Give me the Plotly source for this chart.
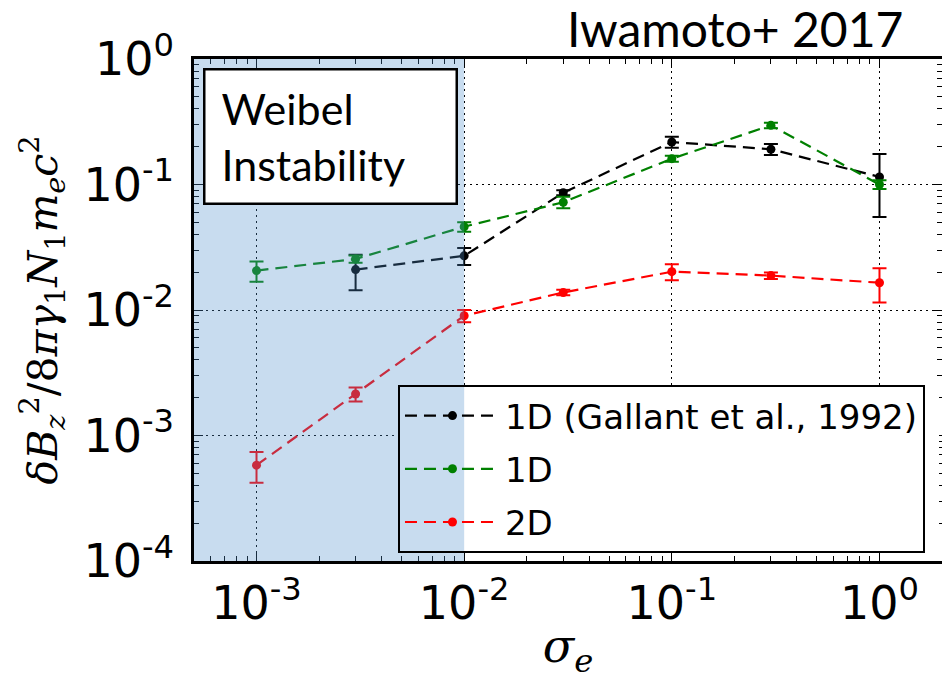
import numpy as np
import plotly.graph_objects as go

# ---- data ----
x_gallant = [3e-3, 1e-2, 3e-2, 1e-1, 3e-1, 1.0]
y_gallant = [0.021, 0.027, 0.086, 0.218, 0.191, 0.115]
err_gallant = [0.0066, 0.0042, 0.004, 0.022, 0.019, 0.060]

x_sim = [1e-3, 3e-3, 1e-2, 3e-2, 1e-1, 3e-1, 1.0]
y_1d = [0.0206, 0.0255, 0.0461, 0.0722, 0.1606, 0.296, 0.100]
err_1d = [0.0038, 0.0017, 0.004, 0.0076, 0.009, 0.015, 0.008]
y_2d = [5.8e-4, 2.14e-3, 9.0e-3, 0.0138, 0.0202, 0.0188, 0.0165]
err_2d = [1.6e-4, 2.7e-4, 1.0e-3, 7e-4, 2.9e-3, 1.1e-3, 5.0e-3]

series_names = ["1D (Gallant et al., 1992)", "1D", "2D"]
series_colors = ["#000000", "#008000", "#ff0000"]

x_ticks = [1e-3, 1e-2, 1e-1, 1.0]
x_ticktext = ["10<sup>-3</sup>", "10<sup>-2</sup>", "10<sup>-1</sup>", "10<sup>0</sup>"]
y_ticks = [1e-4, 1e-3, 1e-2, 1e-1, 1.0]
y_ticktext = ["10<sup>-4</sup>", "10<sup>-3</sup>", "10<sup>-2</sup>", "10<sup>-1</sup>", "10<sup>0</sup>"]

x_range = [5e-4, 2.0]
y_range = [1e-4, 1.0]
weibel_limit = 1e-2

title_text = "Iwamoto+ 2017"
box_text = "Weibel<br>Instability"


def minor_vals(lo, hi):
    out = []
    for d in range(int(np.floor(np.log10(lo))), int(np.ceil(np.log10(hi))) + 1):
        for k in range(2, 10):
            v = k * 10.0 ** d
            if lo <= v <= hi:
                out.append(v)
    return out


fig = go.Figure()
datasets = [
    (x_gallant, y_gallant, err_gallant),
    (x_sim, y_1d, err_1d),
    (x_sim, y_2d, err_2d),
]
for (xs, ys, es), name, col in zip(datasets, series_names, series_colors):
    fig.add_trace(go.Scatter(
        x=xs, y=ys, name=name, mode="lines+markers",
        line=dict(color=col, width=2.2, dash="12px,7px"),
        marker=dict(color=col, size=9),
        error_y=dict(type="data", array=es, visible=True, color=col,
                     thickness=2, width=7),
        legendgroup=name,
    ))

axis_common = dict(
    type="log", showline=True, linecolor="black", linewidth=2.5, mirror="allticks",
    ticks="inside", ticklen=9, tickwidth=1.2, tickcolor="black",
    showgrid=True, gridcolor="black", gridwidth=1, griddash="2px,4px",
    zeroline=False, tickmode="array", automargin=False,
    tickfont=dict(family="DejaVu Sans", size=46, color="black"),
)

fig.update_xaxes(
    **axis_common,
    range=[np.log10(x_range[0]), np.log10(x_range[1])],
    tickvals=x_ticks, ticktext=x_ticktext,
    minor=dict(tickmode="array", tickvals=minor_vals(*x_range), ticks="inside",
               ticklen=5, tickcolor="black", tickwidth=1, showgrid=False),
    title=dict(text="<i>σ</i><sub><i>e</i></sub>", standoff=2,
               font=dict(family="DejaVu Serif", size=46, color="black")),
)
fig.update_yaxes(
    **axis_common,
    range=[np.log10(y_range[0]), np.log10(y_range[1])],
    tickvals=y_ticks, ticktext=y_ticktext, ticklabelstandoff=8,
    minor=dict(tickmode="array", tickvals=minor_vals(*y_range), ticks="inside",
               ticklen=5, tickcolor="black", tickwidth=1, showgrid=False),
    title=dict(text="<i>δB</i><sub><i>z</i></sub><sup>2</sup>/8<i>πγ</i><sub>1</sub>"
                    "<i>N</i><sub>1</sub><i>m</i><sub><i>e</i></sub><i>c</i><sup>2</sup>",
               standoff=14,
               font=dict(family="DejaVu Serif", size=41, color="black")),
)

# axis fraction of the Weibel boundary (log axis -> paper coordinates)
lx0, lx1 = np.log10(x_range[0]), np.log10(x_range[1])
weibel_frac = (np.log10(weibel_limit) - lx0) / (lx1 - lx0)

# legend frame backing (white), then translucent Weibel shading on top
leg_x0, leg_x1, leg_y0, leg_y1 = 0.2727, 0.996, 0.022, 0.3506
fig.add_shape(type="rect", xref="paper", yref="paper", x0=leg_x0, x1=leg_x1,
              y0=leg_y0, y1=leg_y1, fillcolor="white", line=dict(width=0),
              layer="above")
fig.add_shape(type="rect", xref="paper", yref="paper",
              x0=0, x1=weibel_frac, y0=0, y1=1,
              fillcolor="rgb(76,143,204)", opacity=0.31, line=dict(width=0),
              layer="above")

fig.add_annotation(
    text=box_text, xref="paper", yref="paper", x=0.012, y=0.982,
    xanchor="left", yanchor="top", align="left", showarrow=False,
    font=dict(family="Lato", size=43, color="black"),
    bgcolor="white", bordercolor="black", borderwidth=2.5, borderpad=16,
    width=218, height=100, valign="middle",
)
fig.add_annotation(
    text=title_text, xref="paper", yref="paper", x=0.9505, y=1.0,
    xanchor="right", yanchor="bottom", showarrow=False, yshift=0,
    font=dict(family="Lato", size=48, color="black"),
)

fig.update_layout(
    width=942, height=680,
    margin=dict(l=194, r=0, t=59, b=119),
    plot_bgcolor="white", paper_bgcolor="white",
    showlegend=True,
    legend=dict(x=leg_x0, y=leg_y1, xanchor="left", yanchor="top",
                bgcolor="rgba(0,0,0,0)", bordercolor="black", borderwidth=2,
                font=dict(family="DejaVu Sans", size=34, color="black"),
                traceorder="grouped", tracegroupgap=6, itemwidth=95),
)

fig.write_html("out.html", config={"displayModeBar": False},
               post_script="document.body.style.margin='0';document.body.style.overflow='hidden';")
